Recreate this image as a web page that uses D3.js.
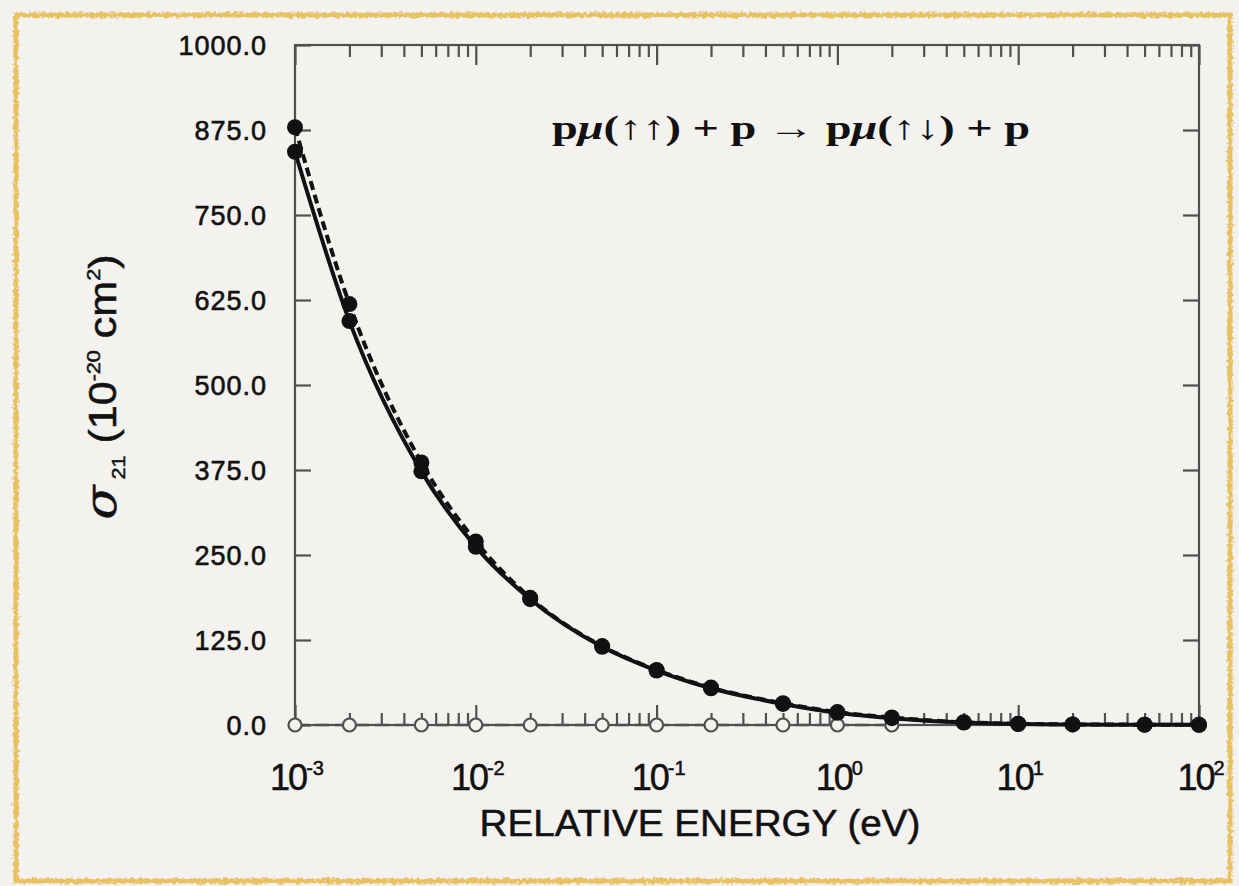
<!DOCTYPE html>
<html>
<head>
<meta charset="utf-8">
<script src="https://cdn.jsdelivr.net/npm/d3@7"></script>
<style>
  html, body { margin: 0; padding: 0; background: #f4f2ee; }
  svg { display: block; }
</style>
</head>
<body>
<div id="chart"></div>
<script>
// relative energy (eV) where the curves were computed
var energies    = [0.001, 0.002, 0.005, 0.01, 0.02, 0.05, 0.1, 0.2, 0.5, 1, 2, 5, 10, 20, 50, 100];
// sigma_21 in 1e-20 cm^2
var sigmaSolid  = [843, 594, 373, 262, 185, 115, 80, 54, 31, 18, 10, 3.5, 1.5, 0.8, 0.4, 0.2];
var sigmaDashed = [879, 619, 386, 270, 187, 116, 81, 55, 32, 19, 11, 4, 1.8, 0.9, 0.5, 0.3];
// open-circle series lying on zero
var zeroEnergies = [0.001, 0.002, 0.005, 0.01, 0.02, 0.05, 0.1, 0.2, 0.5, 1, 2];
var zeroValues   = [0, 0, 0, 0, 0, 0, 0, 0, 0, 0, 0];

var yTicks     = [0, 125, 250, 375, 500, 625, 750, 875, 1000];
var xDecades   = [1e-3, 1e-2, 1e-1, 1e0, 1e1, 1e2];
var xExponents = ["-3", "-2", "-1", "0", "1", "2"];

var INK   = "#111111";
var AXIS  = "#505050";
var PAPER = "#f4f2ee";
var FRAME = "#e8c260";
var SANS  = "'Liberation Sans', Arial, sans-serif";

var W = 1239, H = 886;
var margin = { top: 45, left: 295 };
var width  = 904;
var height = 680;

var svg = d3.select("#chart").append("svg")
  .attr("width", W)
  .attr("height", H);

var defs = svg.append("defs");
var rough = defs.append("filter").attr("id", "rough")
  .attr("x", "-2%").attr("y", "-2%").attr("width", "104%").attr("height", "104%");
rough.append("feTurbulence")
  .attr("type", "fractalNoise").attr("baseFrequency", 0.3)
  .attr("numOctaves", 2).attr("seed", 4).attr("result", "noise");
rough.append("feDisplacementMap")
  .attr("in", "SourceGraphic").attr("in2", "noise")
  .attr("scale", 6).attr("xChannelSelector", "R").attr("yChannelSelector", "G");

svg.append("rect")
  .attr("width", W).attr("height", H)
  .attr("fill", PAPER);

svg.append("rect")
  .attr("x", 16).attr("y", 15)
  .attr("width", 1214).attr("height", 866)
  .attr("fill", "none")
  .attr("stroke", FRAME)
  .attr("stroke-width", 5)
  .attr("filter", "url(#rough)");

var g = svg.append("g")
  .attr("transform", "translate(" + margin.left + "," + margin.top + ")");

var x = d3.scaleLog().domain([1e-3, 1e2]).range([0, width]);
var y = d3.scaleLinear().domain([0, 1000]).range([height, 0]);

var minorTicks = [];
xDecades.slice(0, -1).forEach(function (d) {
  for (var k = 2; k <= 9; k++) minorTicks.push(d * k);
});

function styleAxis(sel) {
  sel.select(".domain").remove();
  sel.selectAll(".tick line").attr("stroke", AXIS).attr("stroke-width", 2.2);
}

// y axes (ticks pointing inward)
g.append("g")
  .call(d3.axisLeft(y).tickValues(yTicks).tickSize(-16).tickPadding(28).tickFormat(d3.format(".1f")))
  .call(styleAxis)
  .call(function (a) {
    a.selectAll(".tick text")
      .attr("fill", INK)
      .attr("stroke", INK)
      .attr("stroke-width", 0.6)
      .attr("font-family", SANS)
      .attr("font-size", "27px")
      .attr("letter-spacing", "1px")
      .attr("dy", "0.36em");
  });

g.append("g")
  .attr("transform", "translate(" + width + ",0)")
  .call(d3.axisRight(y).tickValues(yTicks).tickSize(-16).tickFormat(""))
  .call(styleAxis);

// x axes: major + minor, bottom and top
g.append("g")
  .attr("transform", "translate(0," + height + ")")
  .call(d3.axisBottom(x).tickValues(xDecades).tickSize(-20).tickFormat(""))
  .call(styleAxis);
g.append("g")
  .attr("transform", "translate(0," + height + ")")
  .call(d3.axisBottom(x).tickValues(minorTicks).tickSize(-12).tickFormat(""))
  .call(styleAxis);
g.append("g")
  .call(d3.axisTop(x).tickValues(xDecades).tickSize(-20).tickFormat(""))
  .call(styleAxis);
g.append("g")
  .call(d3.axisTop(x).tickValues(minorTicks).tickSize(-12).tickFormat(""))
  .call(styleAxis);

// frame
g.append("rect")
  .attr("width", width).attr("height", height)
  .attr("fill", "none")
  .attr("stroke", AXIS)
  .attr("stroke-width", 2.2);

// x tick labels 10^n
xDecades.forEach(function (d, i) {
  var t = g.append("text")
    .attr("x", x(d) + 2)
    .attr("y", height + 65)
    .attr("text-anchor", "middle")
    .attr("fill", INK)
    .attr("stroke", INK)
    .attr("stroke-width", 0.5)
    .attr("font-family", SANS)
    .attr("font-size", "36px")
    .attr("letter-spacing", "-2px");
  t.append("tspan").text("10");
  t.append("tspan")
    .attr("font-size", "20px")
    .attr("letter-spacing", "0px")
    .attr("dy", "-15")
    .text(xExponents[i]);
});

// axis titles
g.append("text")
  .attr("x", width / 2 - 47)
  .attr("y", height + 111)
  .attr("text-anchor", "middle")
  .attr("fill", INK)
  .attr("stroke", INK)
  .attr("stroke-width", 0.5)
  .attr("font-family", SANS)
  .attr("font-size", "36px")
  .attr("textLength", 441)
  .attr("lengthAdjust", "spacingAndGlyphs")
  .text("RELATIVE ENERGY (eV)");

var yt = svg.append("text")
  .attr("transform", "translate(116,387) rotate(-90)")
  .attr("text-anchor", "middle")
  .attr("fill", INK)
  .attr("stroke", INK)
  .attr("stroke-width", 0.5)
  .attr("font-family", SANS)
  .attr("font-size", "38px")
  .attr("textLength", 265)
  .attr("lengthAdjust", "spacingAndGlyphs");
yt.append("tspan")
  .attr("font-family", "'DejaVu Serif', serif")
  .attr("font-style", "italic")
  .attr("font-size", "44px")
  .text("\u03C3");
yt.append("tspan").attr("font-size", "19px").attr("dy", "9").text(" 21");
yt.append("tspan").attr("dy", "-9").text(" (10");
yt.append("tspan").attr("font-size", "19px").attr("dy", "-16").text("-20");
yt.append("tspan").attr("dy", "16").text(" cm");
yt.append("tspan").attr("font-size", "19px").attr("dy", "-16").text("2");
yt.append("tspan").attr("dy", "16").text(")");

// reaction label
var title = g.append("text")
  .attr("x", 257)
  .attr("y", 94)
  .attr("fill", INK)
  .attr("font-family", "'Liberation Serif', 'DejaVu Serif', serif")
  .attr("font-weight", "bold")
  .attr("font-size", "34px")
  .attr("textLength", 478)
  .attr("lengthAdjust", "spacingAndGlyphs");
title.append("tspan").text("p");
title.append("tspan").attr("font-style", "italic").text("\u03BC");
title.append("tspan").text("(\u2191\u2191) + p \u2192 p");
title.append("tspan").attr("font-style", "italic").text("\u03BC");
title.append("tspan").text("(\u2191\u2193) + p");

// curves
var line = d3.line()
  .x(function (d) { return x(d[0]); })
  .y(function (d) { return y(d[1]); })
  .curve(d3.curveMonotoneX);

var solidPts  = d3.zip(energies, sigmaSolid);
var dashedPts = d3.zip(energies, sigmaDashed);
var zeroPts   = d3.zip(zeroEnergies, zeroValues);

g.append("path")
  .attr("d", line(zeroPts))
  .attr("fill", "none")
  .attr("stroke", AXIS)
  .attr("stroke-width", 2.5)
  .attr("stroke-dasharray", "14,6");

g.append("path")
  .attr("d", line(dashedPts))
  .attr("fill", "none")
  .attr("stroke", INK)
  .attr("stroke-width", 4)
  .attr("stroke-dasharray", "9,5");

g.append("path")
  .attr("d", line(solidPts))
  .attr("fill", "none")
  .attr("stroke", INK)
  .attr("stroke-width", 4);

// markers
g.selectAll(".open")
  .data(zeroPts)
  .enter().append("circle")
  .attr("cx", function (d) { return x(d[0]); })
  .attr("cy", function (d) { return y(d[1]); })
  .attr("r", 6.5)
  .attr("fill", PAPER)
  .attr("stroke", AXIS)
  .attr("stroke-width", 2.2);

[dashedPts, solidPts].forEach(function (pts) {
  g.append("g").selectAll("circle")
    .data(pts)
    .enter().append("circle")
    .attr("cx", function (d) { return x(d[0]); })
    .attr("cy", function (d) { return y(d[1]); })
    .attr("r", 8)
    .attr("fill", INK);
});
</script>
</body>
</html>
